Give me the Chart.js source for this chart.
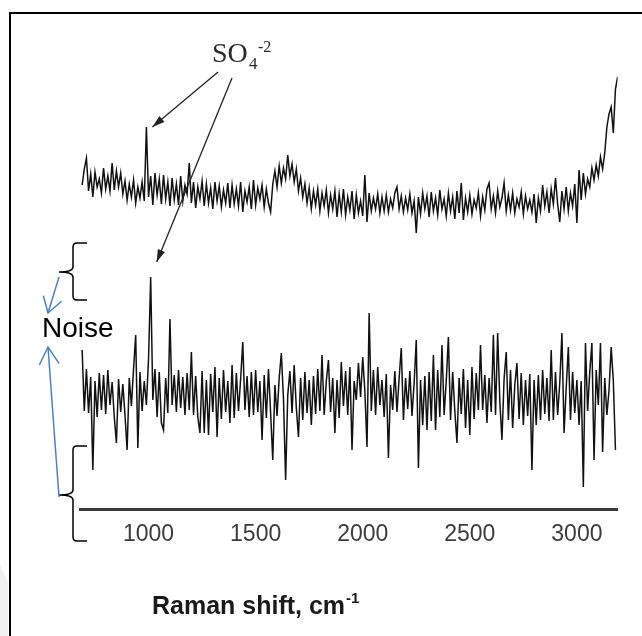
<!DOCTYPE html>
<html>
<head>
<meta charset="utf-8">
<title>Raman shift</title>
<script src="https://cdn.jsdelivr.net/npm/chart.js@4.4.1/dist/chart.umd.min.js"></script>
<style>
  body { margin: 0; background: #fff; }
  canvas { display: block; }
</style>
</head>
<body>
<canvas id="grafico" width="642" height="636"></canvas>
<script>
// deslocamento Raman (cm-1), passo de 10
const deslocamento = [
  690, 700, 710, 720, 730, 740, 750, 760, 770, 780,
  790, 800, 810, 820, 830, 840, 850, 860, 870, 880,
  890, 900, 910, 920, 930, 940, 950, 960, 970, 980,
  990, 1000, 1010, 1020, 1030, 1040, 1050, 1060, 1070, 1080,
  1090, 1100, 1110, 1120, 1130, 1140, 1150, 1160, 1170, 1180,
  1190, 1200, 1210, 1220, 1230, 1240, 1250, 1260, 1270, 1280,
  1290, 1300, 1310, 1320, 1330, 1340, 1350, 1360, 1370, 1380,
  1390, 1400, 1410, 1420, 1430, 1440, 1450, 1460, 1470, 1480,
  1490, 1500, 1510, 1520, 1530, 1540, 1550, 1560, 1570, 1580,
  1590, 1600, 1610, 1620, 1630, 1640, 1650, 1660, 1670, 1680,
  1690, 1700, 1710, 1720, 1730, 1740, 1750, 1760, 1770, 1780,
  1790, 1800, 1810, 1820, 1830, 1840, 1850, 1860, 1870, 1880,
  1890, 1900, 1910, 1920, 1930, 1940, 1950, 1960, 1970, 1980,
  1990, 2000, 2010, 2020, 2030, 2040, 2050, 2060, 2070, 2080,
  2090, 2100, 2110, 2120, 2130, 2140, 2150, 2160, 2170, 2180,
  2190, 2200, 2210, 2220, 2230, 2240, 2250, 2260, 2270, 2280,
  2290, 2300, 2310, 2320, 2330, 2340, 2350, 2360, 2370, 2380,
  2390, 2400, 2410, 2420, 2430, 2440, 2450, 2460, 2470, 2480,
  2490, 2500, 2510, 2520, 2530, 2540, 2550, 2560, 2570, 2580,
  2590, 2600, 2610, 2620, 2630, 2640, 2650, 2660, 2670, 2680,
  2690, 2700, 2710, 2720, 2730, 2740, 2750, 2760, 2770, 2780,
  2790, 2800, 2810, 2820, 2830, 2840, 2850, 2860, 2870, 2880,
  2890, 2900, 2910, 2920, 2930, 2940, 2950, 2960, 2970, 2980,
  2990, 3000, 3010, 3020, 3030, 3040, 3050, 3060, 3070, 3080,
  3090, 3100, 3110, 3120, 3130, 3140, 3150, 3160, 3170, 3180,
  3190
];

// espectro de cima (intensidade, u.a.)
const espectroSuperior = [
  324, 340, 351, 318, 335, 312, 337, 322, 330, 316,
  341, 320, 333, 318, 346, 319, 338, 322, 336, 315,
  328, 309, 325, 312, 329, 306, 322, 311, 327, 308,
  382, 312, 333, 304, 336, 314, 330, 305, 334, 310,
  327, 303, 331, 309, 325, 304, 333, 308, 324, 315,
  346, 306, 327, 301, 322, 310, 328, 303, 325, 306,
  321, 300, 327, 308, 323, 302, 319, 306, 326, 301,
  324, 305, 320, 303, 327, 297, 318, 307, 322, 300,
  329, 304, 321, 310, 324, 302, 320, 306, 297, 325,
  338, 322, 343, 326, 341, 330, 354, 333, 345, 327,
  340, 318, 331, 312, 325, 306, 321, 300, 318, 304,
  320, 298, 316, 303, 319, 296, 314, 300, 318, 292,
  315, 297, 320, 294, 312, 299, 318, 290, 314, 296,
  308, 293, 334, 287, 316, 298, 311, 300, 315, 296,
  312, 298, 314, 297, 310, 301, 316, 322, 300, 313,
  297, 311, 299, 315, 296, 308, 276, 312, 295, 316,
  300, 313, 292, 317, 298, 311, 294, 319, 300, 310,
  293, 316, 298, 312, 290, 318, 296, 326, 289, 311,
  297, 314, 295, 309, 301, 316, 293, 312, 299, 320,
  326, 300, 313, 296, 318, 302, 311, 326, 298, 314,
  299, 316, 296, 310, 302, 317, 295, 313, 300, 309,
  297, 315, 286, 311, 298, 324, 303, 317, 296, 320,
  305, 331, 305, 287, 318, 300, 322, 298, 316, 303,
  325, 286, 339, 309, 336, 315, 330, 322, 341, 329,
  344, 333, 352, 340, 356, 382, 395, 402, 376, 420,
  432
];

// espectro de baixo, com muito ruído (termina antes de 3190)
const espectroInferior = [
  159, 98, 140, 96, 132, 39, 128, 92, 136, 99,
  134, 95, 139, 104, 127, 92, 66, 130, 97, 125,
  94, 59, 131, 103, 140, 174, 61, 137, 98, 128,
  104, 150, 232, 109, 140, 92, 137, 86, 79, 131,
  96, 190, 104, 134, 97, 139, 101, 132, 94, 136,
  99, 157, 94, 133, 92, 76, 138, 76, 129, 74,
  135, 97, 142, 72, 131, 90, 139, 97, 128, 86,
  144, 91, 136, 98, 130, 167, 99, 133, 92, 137,
  94, 139, 97, 128, 69, 134, 91, 140, 96, 49,
  124, 93, 131, 156, 110, 29, 114, 138, 96, 144,
  101, 72, 131, 89, 137, 96, 129, 84, 133, 95,
  140, 98, 154, 94, 128, 149, 97, 131, 76, 129,
  91, 147, 103, 138, 94, 142, 59, 128, 109, 146,
  112, 152, 118, 62, 196, 98, 139, 94, 142, 104,
  129, 92, 135, 51, 124, 99, 138, 97, 131, 161,
  89, 131, 100, 138, 93, 126, 169, 41, 129, 84,
  133, 79, 137, 88, 154, 79, 139, 92, 164, 94,
  128, 172, 89, 137, 98, 66, 131, 95, 140, 81,
  129, 74, 142, 90, 136, 99, 164, 99, 134, 86,
  131, 97, 174, 94, 176, 108, 69, 130, 157, 89,
  139, 81, 124, 146, 90, 136, 84, 129, 93, 135,
  39, 129, 84, 134, 89, 139, 95, 131, 88, 159,
  89, 137, 94, 126, 176, 76, 121, 162, 89, 137,
  96, 129, 84, 128, 22, 166, 98, 137, 166, 49,
  139, 104, 166, 57, 131, 94, 119, 162, 128, 59,
  null
];

const marcasX = [1000, 1500, 2000, 2500, 3000];

const azul = '#4f81bd';

// seta simples; cheia = ponta preenchida
function seta(c, x1, y1, x2, y2, comp, abertura, cheia) {
  const ang = Math.atan2(y2 - y1, x2 - x1);
  c.beginPath();
  c.moveTo(x1, y1);
  c.lineTo(x2, y2);
  c.stroke();
  c.beginPath();
  c.moveTo(x2 - comp * Math.cos(ang - abertura), y2 - comp * Math.sin(ang - abertura));
  c.lineTo(x2, y2);
  c.lineTo(x2 - comp * Math.cos(ang + abertura), y2 - comp * Math.sin(ang + abertura));
  if (cheia) { c.closePath(); c.fill(); } else c.stroke();
}

// chave "{" com a ponta virada para a esquerda
function chave(c, x, topo, meio, base) {
  c.beginPath();
  c.moveTo(x + 14, topo);
  c.lineTo(x + 4, topo);
  c.quadraticCurveTo(x, topo, x, topo + 4);
  c.lineTo(x, meio - 5);
  c.quadraticCurveTo(x, meio, x - 14, meio);
  c.quadraticCurveTo(x, meio, x, meio + 5);
  c.lineTo(x, base - 4);
  c.quadraticCurveTo(x, base, x + 4, base);
  c.lineTo(x + 14, base);
  c.stroke();
}

const anotacoes = {
  id: 'anotacoes',
  beforeDraw(chart) {
    const c = chart.ctx;
    c.save();
    c.fillStyle = '#fff';
    c.fillRect(0, 0, chart.width, chart.height);
    c.fillStyle = '#f0f0f0';
    c.beginPath();
    c.moveTo(0, 565); c.lineTo(8, 582); c.lineTo(8, 636); c.lineTo(0, 636);
    c.fill();
    // moldura
    c.strokeStyle = '#000';
    c.lineWidth = 2;
    c.beginPath();
    c.moveTo(10, 636); c.lineTo(10, 13); c.lineTo(642, 13);
    c.stroke();
    c.restore();
  },
  afterDraw(chart) {
    const c = chart.ctx;
    const x = chart.scales.x, y = chart.scales.y;
    c.save();

    // rótulo do sulfato
    c.fillStyle = '#2a2a2a';
    c.textBaseline = 'alphabetic';
    c.font = '28px "Liberation Serif"';
    c.fillText('SO', 212, 62);
    c.font = '17px "Liberation Serif"';
    c.fillText('4', 249, 69);
    c.font = '16px "Liberation Serif"';
    c.fillText('-2', 258, 52);

    // setas apontando para o pico do sulfato nos dois espectros
    const iSup = espectroSuperior.indexOf(Math.max(...espectroSuperior.slice(0, 60)));
    const iInf = espectroInferior.indexOf(Math.max(...espectroInferior));
    const pSupX = x.getPixelForValue(deslocamento[iSup]) + 6;
    const pSupY = y.getPixelForValue(espectroSuperior[iSup]);
    const pInfX = x.getPixelForValue(deslocamento[iInf]) + 6;
    const pInfY = y.getPixelForValue(espectroInferior[iInf]) - 15;
    c.strokeStyle = '#222';
    c.fillStyle = '#222';
    c.lineWidth = 1.3;
    seta(c, 218, 72, pSupX, pSupY, 13, 0.3, true);
    seta(c, 232, 78, pInfX, pInfY, 13, 0.3, true);

    // chaves marcando a faixa de ruído
    c.strokeStyle = '#000';
    c.lineWidth = 1.5;
    chave(c, 73, 243, 272, 300);
    chave(c, 73, 446, 495, 541);

    c.fillStyle = '#000';
    c.font = '28px "Liberation Sans"';
    c.fillText('Noise', 42, 337);

    c.strokeStyle = azul;
    c.lineWidth = 1.5;
    seta(c, 59, 277, 48, 313, 18, 0.56, false);
    seta(c, 59, 497, 48, 347, 20, 0.52, false);

    // título do eixo x
    c.fillStyle = '#1a1a1a';
    c.font = 'bold 25px "Liberation Sans"';
    c.fillText('Raman shift, cm', 152, 614);
    const w = c.measureText('Raman shift, cm').width;
    c.font = 'bold 15px "Liberation Sans"';
    c.fillText('-1', 152 + w + 1, 603);

    c.restore();
  }
};

const ctx = document.getElementById('grafico').getContext('2d');

new Chart(ctx, {
  type: 'line',
  data: {
    datasets: [
      {
        label: 'superior',
        data: deslocamento.map((d, i) => ({ x: d, y: espectroSuperior[i] })),
        borderColor: '#111',
        borderWidth: 1.5,
        pointRadius: 0,
        tension: 0
      },
      {
        label: 'inferior',
        data: deslocamento.map((d, i) => ({ x: d, y: espectroInferior[i] })),
        borderColor: '#111',
        borderWidth: 1.5,
        pointRadius: 0,
        tension: 0
      }
    ]
  },
  options: {
    responsive: false,
    animation: false,
    devicePixelRatio: 1,
    layout: { padding: { left: 80, right: 24.4, top: 20, bottom: 0 } },
    plugins: {
      legend: { display: false },
      tooltip: { enabled: false }
    },
    scales: {
      x: {
        type: 'linear',
        min: 680,
        max: 3190,
        afterBuildTicks: s => { s.ticks = marcasX.map(v => ({ value: v })); },
        afterFit: s => { s.height = 127; },
        grid: { display: false, drawTicks: false },
        border: { display: true, color: '#3a3a3a', width: 3 },
        ticks: {
          autoSkip: false,
          maxRotation: 0,
          padding: 12,
          color: '#3c3c3c',
          font: { family: '"Liberation Sans"', size: 23 },
          callback: v => String(v)
        }
      },
      y: { display: false, min: 0, max: 489 }
    }
  },
  plugins: [anotacoes]
});
</script>
</body>
</html>
